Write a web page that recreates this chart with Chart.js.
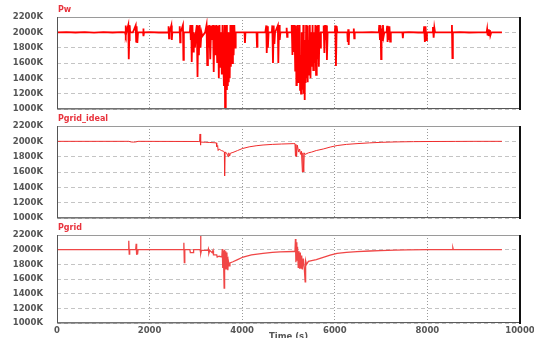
<!DOCTYPE html>
<html>
<head>
<meta charset="utf-8">
<script src="https://cdn.jsdelivr.net/npm/chart.js@4.4.0/dist/chart.umd.min.js"></script>
<style>
  html, body { margin: 0; padding: 0; background: #fff; }
  #wrap { position: relative; width: 534px; height: 338px; overflow: hidden; }
  canvas { position: absolute; left: 0; }
</style>
</head>
<body>
<div id="wrap">
  <canvas id="chart-pw" width="534" height="116" style="top:0px"></canvas>
  <canvas id="chart-ideal" width="534" height="116" style="top:110px"></canvas>
  <canvas id="chart-grid" width="534" height="116" style="top:222px"></canvas>
</div>
<script>
// axis ticks (K)
const yTicks = [1000, 1200, 1400, 1600, 1800, 2000, 2200];
const xTicks = [0, 2000, 4000, 6000, 8000, 10000];

// Pw
const pwTime = [0, 200, 400, 600, 800, 1000, 1200, 1400,
  1470, 1480, 1490, 1500, 1540, 1550, 1560, 1570, 1580, 1640,
  1700, 1710, 1720, 1735, 1750, 1860, 1865, 1870, 1880, 2000, 2200,
  2400, 2410, 2420, 2430, 2470, 2480, 2490, 2640, 2650, 2660, 2670, 2720, 2730, 2740,
  2870, 2880, 2890, 2900, 2910, 2925, 2940, 2955, 2980, 3000,
  3020, 3035, 3050, 3065, 3080, 3100, 3120, 3140, 3200,
  3230, 3245, 3260, 3275, 3290, 3310, 3330, 3350, 3370, 3385, 3400, 3420, 3440, 3460,
  3480, 3495, 3510, 3525, 3540, 3560, 3575, 3590, 3605, 3620, 3630, 3640, 3650, 3660,
  3670, 3680, 3690, 3700, 3710, 3720, 3730, 3745, 3755, 3770, 3785, 3800, 3815, 3830, 3845, 3860,
  3950, 4050, 4060, 4070, 4200, 4310, 4320, 4330, 4500, 4520, 4530, 4545, 4555, 4570,
  4640, 4650, 4665, 4680, 4695, 4710, 4770, 4780, 4795, 4810, 4825, 4950, 4960, 4970, 4980,
  5060, 5070, 5085, 5100, 5115, 5130, 5145, 5160, 5170, 5180, 5190, 5200, 5210, 5220, 5230,
  5240, 5250, 5260, 5270, 5280, 5290, 5300, 5310, 5320, 5330, 5340, 5350, 5360, 5370, 5380,
  5390, 5400, 5410, 5420, 5430, 5440, 5450, 5460, 5475, 5490, 5505, 5520, 5535, 5550, 5565,
  5580, 5595, 5610, 5625, 5640, 5655, 5670, 5685, 5700, 5750, 5760, 5775, 5790, 5805, 5820,
  5830, 5845, 5890, 6000, 6010, 6025, 6040, 6055, 6200, 6270, 6280, 6290, 6300, 6310,
  6400, 6410, 6420, 6430, 6600, 6800, 6950, 6960, 6975, 6990, 7000, 7010, 7025, 7040, 7055, 7070,
  7120, 7130, 7140, 7150, 7165, 7180, 7195, 7210, 7300, 7460, 7470, 7480, 7600, 7800,
  7920, 7930, 7945, 7960, 7975, 7990, 8110, 8120, 8135, 8150, 8165, 8300, 8520, 8530, 8540, 8550,
  8700, 8900, 9100, 9280, 9290, 9300, 9310, 9320, 9330, 9340, 9350, 9360, 9380, 9500, 9610];
const pwValue = [2000, 2002, 1998, 2003, 1997, 2002, 1998, 2003,
  2000, 2090, 1960, 2000, 2095, 1650, 1900, 2090, 2000, 2000,
  2090, 1880, 2080, 1860, 2000, 2000, 2050, 1950, 2000, 2003, 1998,
  2000, 2080, 1920, 2000, 2090, 1900, 2000, 2000, 2080, 1870, 2000, 2095, 1640, 2000,
  2000, 2095, 1900, 2090, 1613, 2095, 1750, 2000, 1800, 2000,
  2095, 1418, 2090, 1700, 2095, 1800, 2000, 1950, 2000,
  2095, 1574, 2090, 1800, 2095, 1650, 2090, 1900, 2095, 1483, 2090, 1700, 2095, 1600,
  2090, 1404, 2095, 1550, 2000, 1450, 2095, 1700, 1300, 2095, 1026, 1900, 1350, 2095,
  1248, 1700, 1300, 2000, 1350, 1800, 1400, 2095, 1550, 2095, 1600, 2095, 1700, 2095, 1800, 2000,
  2000, 2000, 1860, 2000, 2000, 2000, 1810, 2000, 2000, 2090, 1730, 2080, 1800, 2000,
  2000, 2090, 1600, 2090, 1850, 2000, 2090, 1600, 2095, 1900, 2000, 2000, 2060, 1940, 2000,
  2000, 2095, 1705, 2095, 1745, 2095, 1500, 2090, 1313, 2000, 1450, 2095, 1350, 1900, 1400,
  2095, 1250, 1700, 1200, 2000, 1300, 1800, 1250, 2095, 1200, 1600, 1118, 1900, 1340, 2095,
  1400, 1800, 1350, 2090, 1450, 1900, 1500, 2095, 1400, 2000, 1550, 2095, 1509, 2000, 1600,
  2095, 1444, 2090, 1650, 2095, 1550, 2000, 1800, 2000, 2000, 2090, 1730, 2095, 1900, 2090,
  1640, 2000, 2000, 2000, 2090, 1560, 2080, 2000, 2000, 2000, 1875, 2040, 1835, 2000,
  2000, 2050, 1920, 2000, 2000, 2002, 2000, 2095, 1900, 2090, 1652, 2050, 1900, 2095, 1950, 2000,
  2000, 2085, 1875, 2080, 1900, 2080, 1880, 2000, 2000, 2000, 1925, 2000, 2002, 1998,
  2000, 2080, 1875, 2080, 1900, 2000, 2000, 2070, 1930, 2060, 2000, 2000, 2000, 2095, 1665, 2000,
  2002, 1998, 2000, 2000, 2040, 1960, 2035, 1955, 2040, 1960, 2030, 1960, 2000, 2000, 2000];

// Pgrid_ideal
const idealTime = [0, 1550, 1600, 1650, 1700, 1750, 3050, 3080, 3090, 3095, 3110, 3200, 3300,
  3440, 3450, 3470, 3480, 3500, 3550, 3600, 3615, 3620, 3630, 3660, 3700, 3710, 3730, 3745,
  3800, 3900, 4000, 4150, 4300, 4450, 4650, 4850, 5100, 5140, 5150, 5160, 5175, 5190, 5220,
  5240, 5260, 5280, 5300, 5310, 5330, 5340, 5360, 5430, 5500, 5600, 5750, 5900, 6050, 6250,
  6480, 6750, 7000, 7300, 7700, 8100, 8600, 9000, 9610];
const idealValue = [2000, 2000, 1992, 1990, 1992, 2000, 1998, 1995, 2096, 1950, 1990, 1988, 1985,
  1980, 1930, 1945, 1880, 1900, 1880, 1870, 1860, 1548, 1860, 1850, 1800, 1850, 1810, 1845,
  1855, 1880, 1905, 1928, 1942, 1952, 1960, 1965, 1970, 1970, 1810, 1960, 1800, 1950, 1860,
  1900, 1830, 1870, 1600, 1850, 1600, 1850, 1830, 1850, 1860, 1880, 1900, 1925, 1945, 1960,
  1970, 1980, 1987, 1992, 1996, 1998, 1999, 2000, 2000];

// Pgrid
const gridTime = [0, 1540, 1550, 1560, 1570, 1700, 1710, 1720, 1730, 1740, 1750, 2730, 2740, 2750,
  2760, 2870, 2880, 2940, 2950, 3090, 3100, 3110, 3120, 3260, 3270, 3280, 3300, 3350, 3370,
  3380, 3450, 3460, 3500, 3560, 3570, 3580, 3590, 3600, 3610, 3620, 3630, 3640, 3650, 3660,
  3670, 3680, 3690, 3700, 3720, 3735, 3800, 3900, 4020, 4200, 4450, 4650, 4820, 5100, 5140,
  5150, 5160, 5170, 5180, 5195, 5210, 5225, 5240, 5255, 5270, 5285, 5300, 5320, 5340, 5360,
  5370, 5390, 5430, 5500, 5600, 5750, 5900, 6050, 6250, 6480, 6750, 6980, 7300, 7560, 8000,
  8540, 8550, 8560, 9610];
const gridValue = [2000, 2000, 2122, 1940, 2000, 2000, 2080, 1930, 1970, 1935, 2000, 2000, 2095, 1822,
  2000, 2000, 1960, 1960, 2000, 2000, 2200, 1950, 1990, 1990, 2010, 1950, 1990, 1960, 1990,
  1930, 1930, 1900, 1910, 1900, 2010, 1750, 1990, 1780, 1477, 2000, 1740, 1980, 1760, 1960,
  1730, 1900, 1720, 1850, 1780, 1818, 1835, 1865, 1900, 1928, 1950, 1962, 1970, 1975, 1975,
  2145, 1830, 2100, 1850, 2040, 1760, 1980, 1740, 1960, 1750, 1920, 1730, 1880, 1760, 1560,
  1850, 1800, 1840, 1850, 1865, 1895, 1925, 1950, 1962, 1972, 1982, 1988, 1994, 1998, 2000,
  2000, 2025, 2000, 2000];

window.addEventListener('load', onLoad);

const tickFont = { family: 'DejaVu Sans', size: 8.5, weight: 'bold' };

// frame + panel label
const panelPlugin = {
    id: 'panel',
    afterDraw(chart, args, opts) {
        const { ctx, chartArea: a } = chart;
        ctx.save();
        ctx.setLineDash([]);
        ctx.strokeStyle = '#9a9a9a';
        ctx.lineWidth = 1;
        ctx.strokeRect(a.left + 0.5, a.top + 0.5, a.right - a.left - 1, a.bottom - a.top - 1);
        ctx.strokeStyle = '#555';
        ctx.beginPath();
        ctx.moveTo(a.left + 0.5, a.top);
        ctx.lineTo(a.left + 0.5, a.bottom);
        ctx.lineTo(a.right, a.bottom - 0.5);
        ctx.stroke();
        ctx.strokeStyle = '#111';
        ctx.lineWidth = 2;
        ctx.beginPath();
        ctx.moveTo(a.right, a.top);
        ctx.lineTo(a.right, a.bottom + 1);
        ctx.stroke();
        ctx.fillStyle = '#e8323c';
        ctx.font = 'bold 8px "DejaVu Sans"';
        ctx.textBaseline = 'middle';
        ctx.fillText(opts.label, a.left + 1, a.top - 7);
        if (opts.xTitle) {
            ctx.fillStyle = '#555';
            ctx.font = 'bold 8.5px "DejaVu Sans"';
            ctx.textAlign = 'center';
            ctx.textBaseline = 'top';
            ctx.fillText(opts.xTitle, (a.left + a.right) / 2, a.bottom + 10);
        }
        ctx.restore();
    }
};

function makePanel(id, label, times, values, color, width, padTop, padBottom, showX) {
    const ctx = document.getElementById(id).getContext('2d');
    return new Chart(ctx, {
        type: 'line',
        data: {
            datasets: [{
                data: times.map((t, i) => ({ x: t, y: values[i] })),
                borderColor: color,
                borderWidth: width,
                pointRadius: 0,
                tension: 0
            }]
        },
        options: {
            responsive: false,
            animation: false,
            layout: { padding: { top: padTop, bottom: padBottom, left: 0, right: 14 } },
            plugins: {
                legend: { display: false },
                tooltip: { enabled: false },
                panel: { label: label, xTitle: showX ? 'Time (s)' : null }
            },
            scales: {
                x: {
                    type: 'linear',
                    min: 0,
                    max: 10000,
                    afterBuildTicks: s => { s.ticks = xTicks.map(v => ({ value: v })); },
                    afterFit: s => { s.height = showX ? 15 : 0; s.paddingLeft = 0; s.paddingRight = 0; },
                    grid: { color: '#9a9a9a', drawTicks: false },
                    border: { display: false, dash: [1, 2] },
                    ticks: {
                        display: showX,
                        autoSkip: false,
                        maxRotation: 0,
                        padding: 3,
                        color: '#555',
                        font: tickFont,
                        callback: v => String(v)
                    }
                },
                y: {
                    min: 1000,
                    max: 2200,
                    afterBuildTicks: s => { s.ticks = yTicks.map(v => ({ value: v })); },
                    afterFit: s => { s.width = 57; s.paddingTop = 0; s.paddingBottom = 0; },
                    grid: { color: '#c4c4c4', drawTicks: false },
                    border: { display: false, dash: [4, 3] },
                    ticks: {
                        padding: 14,
                        color: '#555',
                        font: tickFont,
                        callback: v => v + 'K'
                    }
                }
            }
        },
        plugins: [panelPlugin]
    });
}

function onLoad() {
    makePanel('chart-pw', 'Pw', pwTime, pwValue, '#ff0000', 1.8, 17, 7, false);
    makePanel('chart-ideal', 'Pgrid_ideal', idealTime, idealValue, '#f02c2c', 1, 16, 8, false);
    makePanel('chart-grid', 'Pgrid', gridTime, gridValue, '#f04646', 1.3, 13, 0, true);
}
</script>
</body>
</html>
